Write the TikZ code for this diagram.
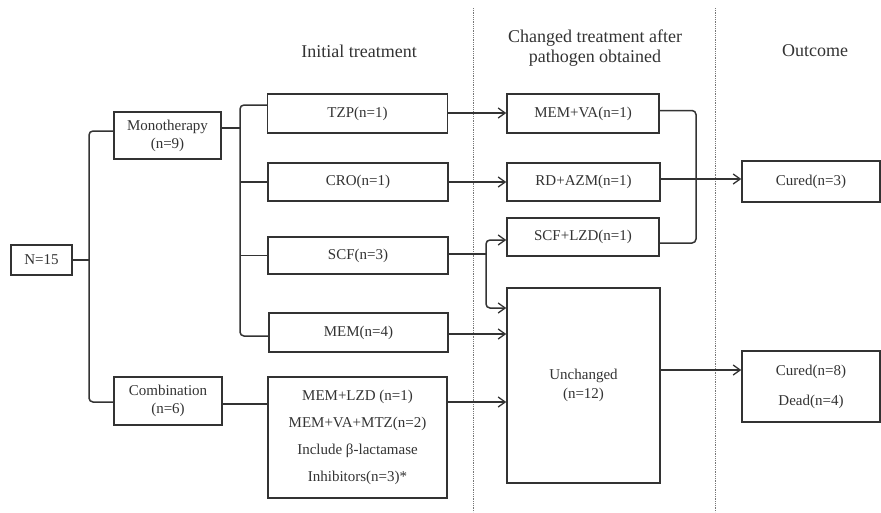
\documentclass[tikz,border=0pt]{standalone}
\usepackage{fontspec}
\setmainfont{Liberation Serif}
\usetikzlibrary{arrows.meta}
\definecolor{ink}{HTML}{333333}
\definecolor{dotc}{HTML}{777777}
\begin{document}
\begin{tikzpicture}[x=1pt,y=-1pt,
  box/.style={draw=ink, line width=1.5pt, text=ink, font=\fontsize{15}{18}\selectfont, align=center, inner sep=0pt},
  conn/.style={draw=ink, line width=1.5pt},
  arr/.style={conn, -{Straight Barb[length=7pt,width=10pt,line width=1.3pt]}},
  hdr/.style={text=ink, font=\fontsize{18}{20}\selectfont, align=center},
  sep/.style={draw=dotc, line width=0.8pt, densely dotted}]
\useasboundingbox (0,0) rectangle (881,512);
\fill[white] (0,0) rectangle (881,512);

% separators
\coordinate (s1t) at (473,8);
\coordinate (s1b) at (473,512);
\coordinate (s2t) at (715,8);
\coordinate (s2b) at (715,512);
\draw[sep] (s1t) -- (s1b);
\draw[sep] (s2t) -- (s2b);

% headers
\node[hdr] (h1) at (359,51) {Initial treatment};
\node[hdr] (h2) at (595,48) {Changed treatment after\\pathogen obtained};
\node[hdr] (h3) at (815,51) {Outcome};

% boxes
\node[box, minimum width=61, minimum height=30] (n15) at (41.5,260) {N=15};
\node[box, minimum width=107, minimum height=47] (mono) at (167.5,135.5) {Monotherapy\\(n=9)};
\node[box, minimum width=108, minimum height=48] (comb) at (168,401) {Combination\\(n=6)};

\node[box, minimum width=180, minimum height=39] (tzp) at (357.5,113.5) {TZP(n=1)};
\node[box, minimum width=180, minimum height=38] (cro) at (358,182) {CRO(n=1)};
\node[box, minimum width=180, minimum height=37] (scf) at (358,255.5) {SCF(n=3)};
\node[box, minimum width=179, minimum height=39] (mem) at (358.5,332.5) {MEM(n=4)};
\node[box, minimum width=179, minimum height=121, font=\fontsize{15}{27}\selectfont] (combo) at (357.5,437.5)
  {MEM+LZD (n=1)\\MEM+VA+MTZ(n=2)\\Include β-lactamase\\Inhibitors(n=3)*};

\node[box, minimum width=152, minimum height=39] (memva) at (583,113.5) {MEM+VA(n=1)};
\node[box, minimum width=153, minimum height=38] (rdazm) at (583.5,182) {RD+AZM(n=1)};
\node[box, minimum width=152, minimum height=38] (scflzd) at (583,237) {SCF+LZD(n=1)};
\node[box, minimum width=153, minimum height=195, font=\fontsize{15}{19}\selectfont] (unch) at (583.5,385.5) {Unchanged\\(n=12)};

\node[box, minimum width=138, minimum height=41] (cur3) at (811,181.5) {Cured(n=3)};
\node[box, minimum width=138, minimum height=71, font=\fontsize{15}{30}\selectfont] (cur8) at (811,386.5) {Cured(n=8)\\Dead(n=4)};

% tree left
\coordinate (sp1) at (89,260);
\draw[conn] (n15.east) -- (sp1);
\draw[conn, rounded corners=4pt] ([yshift=4.5pt]mono.west) -| (sp1) |- ([yshift=-1pt]comb.west);

\coordinate (sp2) at (240,128);
\draw[conn] ([yshift=7.5pt]mono.east) -- (sp2);
\draw[conn, rounded corners=4pt] ([yshift=8.5pt]tzp.west) -| (sp2) |- ([yshift=-3.5pt]mem.west);
\draw[conn] (sp2 |- cro.west) -- (cro.west);
\draw[conn] (sp2 |- scf.west) -- (scf.west);

\draw[conn] ([yshift=-3pt]comb.east) -- ([yshift=-3pt]comb.east -| combo.west);

% arrows middle
\draw[arr] (tzp.east |- 0,113) -- (memva.west |- 0,113);
\draw[arr] (cro.east) -- (rdazm.west);

\coordinate (sp3) at (486,254);
\draw[conn] (scf.east |- sp3) -- (sp3);
\draw[arr, rounded corners=4pt] (sp3) |- ([yshift=-3pt]scflzd.west);
\draw[arr, rounded corners=4pt] (sp3) |- (unch.west |- 0,308);
\draw[arr] (mem.east |- 0,334) -- (unch.west |- 0,334);
\draw[arr] (combo.east |- 0,402) -- (unch.west |- 0,402);

% right side
\coordinate (br) at (696,179);
\draw[conn, rounded corners=4pt] ([yshift=3pt]memva.east) -| (br) |- ([yshift=-6pt]scflzd.east);
\draw[arr] (rdazm.east |- br) -- (cur3.west |- br);
\draw[arr] (unch.east |- 0,370) -- (cur8.west |- 0,370);
\end{tikzpicture}
\end{document}
